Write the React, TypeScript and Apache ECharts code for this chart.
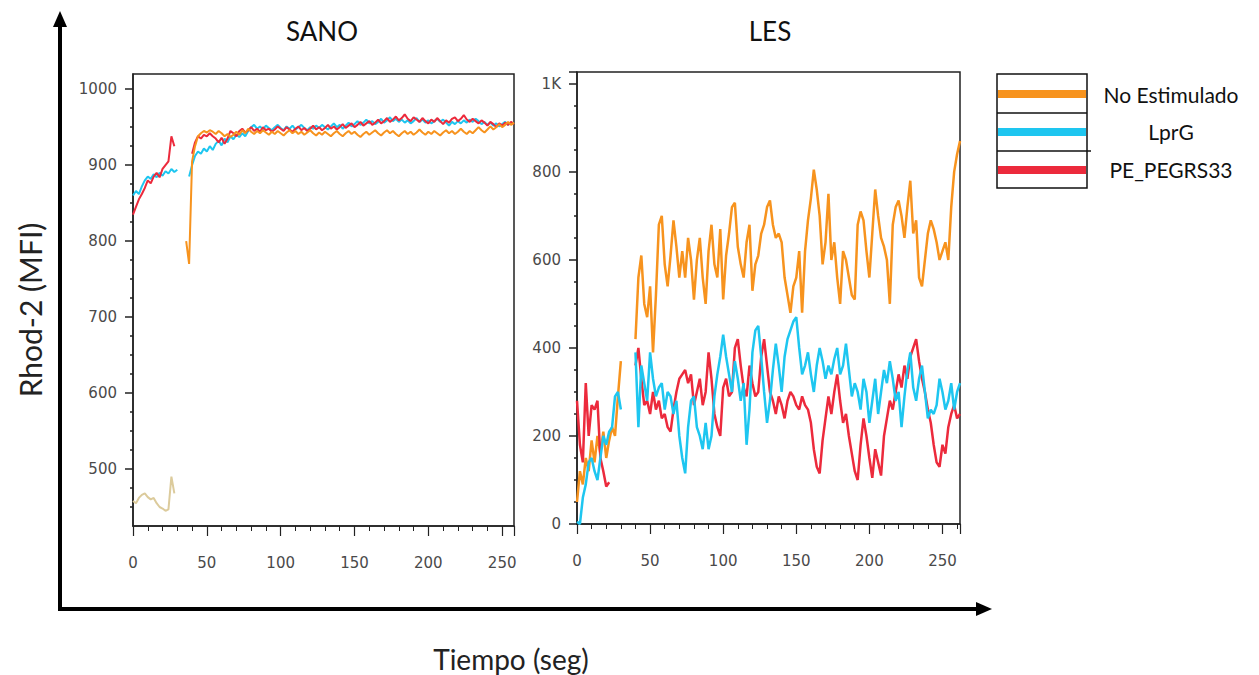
import React, { useEffect, useRef } from "react";
import * as echarts from "echarts";

// Acquisition interval of the kinetic traces, in seconds.
const SAMPLE_STEP = 2;

// SANO panel (t = 0, 2, 4 ... 258 s). null = no acquisition.
const SANO_NO_ESTIMULADO_BASAL = [
  458, 455, 462, 466, 468, 463, 460, 462, 455, 450,
  448, 445, 447, 490, 468,
];
const SANO_NO_ESTIMULADO = [
  null, null, null, null, null, null, null, null, null, null,
  null, null, null, null, null, null, null, null, 800, 770,
  905, 925, 938, 942, 945, 943, 946, 944, 941, 945,
  942, 938, 941, 937, 940, 944, 940, 946, 942, 948,
  944, 941, 945, 942, 946, 943, 940, 944, 941, 945,
  942, 939, 943, 946, 942, 945, 941, 944, 940, 943,
  946, 942, 939, 943, 940, 944, 941, 938, 942, 945,
  941, 938, 942, 945, 941, 944, 940, 937, 941, 944,
  940, 943, 946, 942, 939, 943, 946, 942, 945, 941,
  938, 942, 945, 941, 944, 940, 943, 947, 943, 940,
  944, 941, 945, 942, 939, 943, 946, 942, 945, 941,
  944, 948, 944, 941, 945, 942, 946, 950, 946, 943,
  947, 951, 947, 950, 954, 950, 953, 957, 953, 956,
];
const SANO_LPRG = [
  860, 866, 862, 872, 880, 885, 882, 888, 884, 890,
  886, 892, 889, 895, 891, 894, null, null, null, 885,
  900, 912, 918, 915, 922, 918, 925, 920, 928, 932,
  926, 935, 930, 938, 934, 940, 937, 942, 938, 945,
  950, 953, 948, 951, 947, 952, 949, 946, 950, 953,
  949, 946, 951, 948, 952, 947, 950, 953, 949, 946,
  950, 948, 952, 949, 953, 950, 947, 951, 955, 950,
  953, 948, 952, 956, 951, 954, 958, 953, 956, 960,
  955, 958, 954, 957, 961, 956, 959, 963, 958, 961,
  957, 960, 956, 959, 955, 958, 962, 957, 960, 956,
  959, 955, 958, 961, 957, 960, 956, 952, 957, 954,
  958, 955, 959, 956, 960, 957, 961, 958, 954, 957,
  953, 956, 952, 955, 951, 954, 957, 953, 956, 955,
];
const SANO_PE_PEGRS33 = [
  835, 845, 855, 862, 870, 880, 876, 885, 890, 884,
  895, 900, 905, 938, 925, null, null, null, null, null,
  915, 930, 938, 935, 940, 938, 942, 938, 935, 930,
  936, 928, 935, 945, 942, 938, 945, 948, 943, 946,
  950, 945, 948, 944, 950, 946, 948, 944, 947, 951,
  948, 945, 950, 947, 944, 948, 951, 946, 949, 945,
  948, 952, 947, 950, 946, 949, 953, 948, 951, 947,
  950, 954, 949, 952, 955, 950, 953, 957, 952, 955,
  958, 953, 956, 960, 955, 958, 962, 957, 960, 964,
  959, 962, 967, 961, 958, 963, 960, 957, 962, 958,
  955, 960, 957, 962, 958, 954, 959, 956, 961, 963,
  958, 961, 966, 960, 957, 961, 958, 955, 959, 956,
  952, 957, 954, 950, 955, 952, 956, 953, 957, 954,
];

// LES panel (t = 0, 2, 4 ... 262 s).
const LES_NO_ESTIMULADO = [
  50, 120, 90, 150, 120, 190, 140, 200, 160, 210,
  150, 190, 220, 200, 290, 370, null, null, null, null,
  420, 560, 610, 500, 470, 540, 390, 520, 680, 700,
  590, 540, 610, 690, 630, 560, 620, 560, 650, 600,
  510, 600, 650, 560, 500, 620, 680, 590, 560, 670,
  510, 610, 660, 720, 730, 630, 590, 560, 640, 680,
  530, 590, 610, 660, 680, 720, 735, 680, 650, 660,
  640, 560, 520, 480, 540, 560, 620, 480, 620, 690,
  740, 805, 760, 700, 590, 640, 750, 600, 640, 560,
  500, 620, 600, 560, 520, 510, 680, 710, 690, 620,
  560, 660, 760, 700, 650, 630, 600, 500, 680, 720,
  735, 700, 650, 720, 780, 660, 690, 560, 540, 600,
  660, 690, 670, 640, 600, 620, 640, 600, 720, 800,
  840, 870,
];
const LES_LPRG = [
  5, 0, 60, 90, 140, 150, 120, 100, 150, 200,
  180, 210, 220, 290, 300, 260, null, null, null, null,
  390, 220, 360, 320, 280, 390, 330, 290, 310, 320,
  260, 300, 290, 250, 280, 200, 150, 115, 220, 280,
  290, 220, 200, 170, 230, 170, 200, 290, 340, 380,
  430, 380, 340, 300, 370, 330, 280, 320, 180, 260,
  390, 440, 450, 380, 300, 230, 280, 350, 410, 360,
  300, 380, 420, 440, 460, 470, 400, 340, 360, 390,
  340, 300, 360, 400, 370, 330, 360, 340, 375, 400,
  340, 360, 410, 350, 290, 320, 300, 260, 330, 300,
  230, 280, 330, 250, 300, 350, 320, 370, 330, 280,
  300, 220, 290, 350, 390, 310, 280, 330, 360, 300,
  240, 260, 250, 270, 330, 300, 260, 280, 320, 260,
  300, 320,
];
const LES_PE_PEGRS33 = [
  280, 180, 140, 320, 200, 270, 260, 280, 150, 120,
  85, 95, null, null, null, null, null, null, null, null,
  360, 400, 330, 270, 280, 250, 300, 260, 280, 240,
  250, 220, 210, 260, 300, 330, 340, 350, 320, 340,
  270, 300, 330, 270, 300, 390, 330, 250, 220, 200,
  310, 330, 290, 300, 400, 420, 360, 310, 290, 360,
  320, 290, 300, 380, 420, 360, 300, 280, 250, 290,
  270, 240, 280, 300, 290, 270, 260, 290, 270, 260,
  230, 170, 130, 115, 190, 240, 290, 250, 300, 340,
  280, 230, 250, 200, 160, 120, 100, 180, 240, 200,
  150, 105, 170, 140, 110, 200, 240, 280, 260, 300,
  340, 310, 360, 330, 380, 400, 420, 370, 330, 300,
  260, 230, 180, 140, 130, 180, 160, 220, 250, 270,
  240, 250,
];

const SERIES_NAMES = ["No Estimulado", "LprG", "PE_PEGRS33"];
const SERIES_COLORS = ["#f7931e", "#1ec6f0", "#ec2a3c"];
const BASAL_COLOR = "#dccb9c";

const PANEL_TITLES = ["SANO", "LES"];
const SANO_Y_LABELS = [500, 600, 700, 800, 900, 1000];
const SANO_Y_MINOR = [450, 475, 525, 550, 575, 625, 650, 675, 725, 750, 775, 825, 850, 875, 925, 950, 975];
const Y_AXIS_TITLE = "Rhod-2 (MFI)";
const X_AXIS_TITLE = "Tiempo (seg)";

const toPairs = (values: (number | null)[]) =>
  values.map((v, i) => [i * SAMPLE_STEP, v == null ? "-" : v]);

const AXIS_COLOR = "#222";
const LABEL_STYLE = { color: "#4a4a4a", fontFamily: "DejaVu Sans", fontSize: 15 };
const TITLE_FONT = "Lato, 'Noto Sans', sans-serif";
const plainNumber = (v: number) => `${v}`;

export default function App() {
  const ref = useRef<HTMLDivElement>(null);

  useEffect(() => {
    if (!ref.current) return;
    const chart = echarts.init(ref.current, undefined, { renderer: "svg" });

    const xAxisBase = (gridIndex: number, max: number) => ({
      type: "value",
      gridIndex,
      min: 0,
      max,
      interval: 50,
      axisLine: { show: true, lineStyle: { color: AXIS_COLOR, width: 1.5 } },
      axisTick: { show: true, length: 10, lineStyle: { color: AXIS_COLOR, width: 1.2 } },
      minorTick: { show: true, splitNumber: 5, length: 5, lineStyle: { color: AXIS_COLOR, width: 1 } },
      axisLabel: { ...LABEL_STYLE, margin: 29, formatter: plainNumber },
      splitLine: { show: false },
    });

    const lineSeries = (
      name: string,
      values: (number | null)[],
      color: string,
      axisIndex: number,
      width: number
    ) => ({
      name,
      type: "line",
      xAxisIndex: axisIndex,
      yAxisIndex: axisIndex === 0 ? 0 : 2,
      data: toPairs(values),
      showSymbol: false,
      connectNulls: false,
      lineStyle: { color, width },
      itemStyle: { color },
      z: 3,
    });

    const legendRows = [
      { y: 94, text: SERIES_NAMES[0], color: SERIES_COLORS[0], ty: 94 },
      { y: 132, text: SERIES_NAMES[1], color: SERIES_COLORS[1], ty: 131 },
      { y: 170, text: SERIES_NAMES[2], color: SERIES_COLORS[2], ty: 169 },
    ];

    const centered = { textAlign: "center", textVerticalAlign: "middle", align: "center", verticalAlign: "middle" };

    const graphics: any[] = [
      // panel titles
      { type: "text", x: 322, y: 31, style: { text: PANEL_TITLES[0], font: `26px ${TITLE_FONT}`, fill: "#111", ...centered } },
      { type: "text", x: 770, y: 31, style: { text: PANEL_TITLES[1], font: `26px ${TITLE_FONT}`, fill: "#111", ...centered } },
      // shared axis titles
      { type: "text", x: 30, y: 310, rotation: Math.PI / 2, style: { text: Y_AXIS_TITLE, font: `30px ${TITLE_FONT}`, fill: "#222", ...centered } },
      { type: "text", x: 511, y: 659, style: { text: X_AXIS_TITLE, font: `28px ${TITLE_FONT}`, fill: "#222", ...centered } },
      // shared axes with arrow heads
      { type: "line", shape: { x1: 60, y1: 609, x2: 60, y2: 24 }, style: { stroke: "#000", lineWidth: 4 }, z: 10 },
      { type: "polygon", shape: { points: [[60, 11], [53, 27], [67, 27]] }, style: { fill: "#000" }, z: 10 },
      { type: "line", shape: { x1: 58, y1: 609, x2: 978, y2: 609 }, style: { stroke: "#000", lineWidth: 4 }, z: 10 },
      { type: "polygon", shape: { points: [[992, 609], [976, 602], [976, 616]] }, style: { fill: "#000" }, z: 10 },
      // legend box
      { type: "rect", shape: { x: 997, y: 74, width: 90, height: 114 }, style: { fill: "#fff", stroke: "#111", lineWidth: 1.5 }, z: 10 },
      ...legendRows.map((r) => ({
        type: "rect",
        shape: { x: 998, y: r.y - 4, width: 88, height: 8 },
        style: { fill: r.color },
        z: 11,
      })),
      { type: "line", shape: { x1: 997, y1: 113, x2: 1087, y2: 113 }, style: { stroke: "#111", lineWidth: 1.5 }, z: 11 },
      { type: "line", shape: { x1: 997, y1: 151, x2: 1091, y2: 151 }, style: { stroke: "#111", lineWidth: 1.5 }, z: 11 },
      ...legendRows.map((r) => ({
        type: "text",
        x: 1171,
        y: r.ty,
        style: { text: r.text, font: `21px ${TITLE_FONT}`, fill: "#111", ...centered },
        z: 11,
      })),
    ];

    chart.setOption({
      animation: false,
      backgroundColor: "#fff",
      grid: [
        { left: 133, top: 74, width: 381, height: 452, show: true, borderColor: AXIS_COLOR, borderWidth: 1.5, backgroundColor: "#fff", containLabel: false },
        { left: 577, top: 72, width: 383, height: 452, show: true, borderColor: AXIS_COLOR, borderWidth: 1.5, backgroundColor: "#fff", containLabel: false },
      ],
      xAxis: [xAxisBase(0, 258), xAxisBase(1, 262)],
      yAxis: [
        {
          type: "value",
          gridIndex: 0,
          position: "left",
          min: 425,
          max: 1020,
          axisLine: { show: true, lineStyle: { color: AXIS_COLOR, width: 1.5 } },
          axisTick: { show: true, length: 8, customValues: SANO_Y_LABELS, lineStyle: { color: AXIS_COLOR, width: 1.5 } },
          axisLabel: { ...LABEL_STYLE, margin: 16, customValues: SANO_Y_LABELS, formatter: plainNumber },
          splitLine: { show: false },
        },
        {
          type: "value",
          gridIndex: 0,
          position: "left",
          offset: 0,
          min: 425,
          max: 1020,
          axisLine: { show: false },
          axisTick: { show: true, length: 3, customValues: SANO_Y_MINOR, lineStyle: { color: AXIS_COLOR, width: 1.5 } },
          axisLabel: { show: false },
          splitLine: { show: false },
        },
        {
          type: "value",
          gridIndex: 1,
          position: "left",
          min: 0,
          max: 1027,
          interval: 200,
          axisLine: { show: true, lineStyle: { color: AXIS_COLOR, width: 1.5 } },
          axisTick: { show: true, length: 8, lineStyle: { color: AXIS_COLOR, width: 1.5 } },
          minorTick: { show: true, splitNumber: 4, length: 3, lineStyle: { color: AXIS_COLOR, width: 1.5 } },
          axisLabel: {
            ...LABEL_STYLE,
            margin: 16,
            formatter: (v: number) => (v >= 1000 ? `${v / 1000}K` : `${v}`),
          },
          splitLine: { show: false },
        },
      ],
      series: [
        {
          ...lineSeries(SERIES_NAMES[0], SANO_NO_ESTIMULADO_BASAL, BASAL_COLOR, 0, 2),
          name: `${SERIES_NAMES[0]} (basal)`,
        },
        lineSeries(SERIES_NAMES[1], SANO_LPRG, SERIES_COLORS[1], 0, 2),
        lineSeries(SERIES_NAMES[2], SANO_PE_PEGRS33, SERIES_COLORS[2], 0, 2),
        lineSeries(SERIES_NAMES[0], SANO_NO_ESTIMULADO, SERIES_COLORS[0], 0, 2),
        lineSeries(SERIES_NAMES[0], LES_NO_ESTIMULADO, SERIES_COLORS[0], 1, 2.5),
        lineSeries(SERIES_NAMES[2], LES_PE_PEGRS33, SERIES_COLORS[2], 1, 2.5),
        lineSeries(SERIES_NAMES[1], LES_LPRG, SERIES_COLORS[1], 1, 2.5),
      ],
      graphic: graphics,
    });

    return () => chart.dispose();
  }, []);

  return (
    <div
      ref={ref}
      style={{ position: "fixed", left: 0, top: 0, width: 1259, height: 675, background: "#fff" }}
    />
  );
}
